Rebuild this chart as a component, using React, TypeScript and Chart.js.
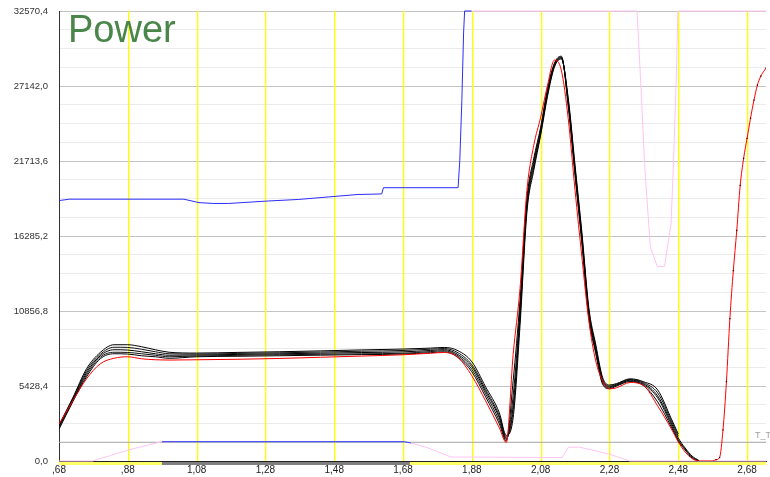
import React, { useEffect, useRef } from "react";
import { Chart, registerables } from "chart.js";

Chart.register(...registerables);

// ---------- axis ticks ----------
const xTickValues = [0.68, 0.88, 1.08, 1.28, 1.48, 1.68, 1.88, 2.08, 2.28, 2.48, 2.68];
const xTickLabels = [",68", ",88", "1,08", "1,28", "1,48", "1,68", "1,88", "2,08", "2,28", "2,48", "2,68"];
const yTickLabels = ["0,0", "5428,4", "10856,8", "16285,2", "21713,6", "27142,0", "32570,4"];
const yMax = 32570.4;
const yMinorStep = 1357.1;

// ---------- main power curves ----------
const curveX = [0.68, 0.72, 0.76, 0.80, 0.84, 0.88, 0.92, 0.96, 1.00, 1.08, 1.20, 1.32, 1.44, 1.56, 1.68, 1.76, 1.80, 1.84, 1.88, 1.92, 1.96, 1.98, 2.00, 2.02, 2.04, 2.06, 2.08, 2.10, 2.12, 2.14, 2.16, 2.18, 2.20, 2.22, 2.24, 2.26, 2.28, 2.30, 2.34, 2.38, 2.42, 2.46, 2.48, 2.50, 2.52, 2.54];
const redY = [2662, 4352, 5948, 7036, 7435, 7544, 7399, 7327, 7305, 7327, 7363, 7421, 7508, 7595, 7689, 7798, 7856, 7480, 6166, 4352, 2394, 1342, 7689, 12477, 19586, 22850, 24881, 27203, 29016, 28291, 24809, 19586, 14726, 10156, 7254, 5803, 5223, 5295, 5680, 5440, 3990, 2321, 1378, 653, 181, 0];
const redTailX = [2.56, 2.58, 2.59, 2.60, 2.61, 2.62, 2.63, 2.64, 2.65, 2.66, 2.67, 2.68, 2.69, 2.70, 2.71, 2.72, 2.735];
const redTailY = [0, 0, 100, 250, 2248, 5750, 10300, 13783, 16684, 19949, 21907, 23358, 24809, 26114, 27203, 27855, 28436];

const black1Y = [2600, 4570, 6674, 7856, 8415, 8415, 8270, 8052, 7871, 7812, 7860, 7907, 7970, 8040, 8103, 8170, 8219, 7979, 7181, 5368, 3482, 1850, 3119, 9793, 17990, 21037, 23575, 26404, 28508, 29100, 26300, 21400, 16500, 11100, 8450, 6050, 5500, 5600, 5950, 5730, 5150, 3047, 1960, null, null, null];
const black2Y = [2550, 4497, 6529, 7725, 8233, 8219, 8088, 7907, 7762, 7740, 7785, 7830, 7885, 7945, 8000, 8090, 8140, 7830, 6964, 5187, 3264, 1750, 3627, 10300, 18280, 21254, 23720, 26549, 28581, 29150, 26150, 21200, 16300, 10900, 8300, 5930, 5430, 5550, 5900, 5658, 4933, 2902, 1800, null, null, null];
const black3Y = [2500, 4425, 6384, 7617, 8052, 8030, 7907, 7762, 7653, 7670, 7715, 7760, 7805, 7850, 7900, 8000, 8060, 7700, 6819, 5041, 3119, 1650, 3990, 10663, 18498, 21472, 23866, 26694, 28653, 29200, 26000, 21037, 16104, 10736, 8124, 5803, 5368, 5513, 5854, 5586, 4715, 2750, 1668, 943, 363, 36];
const black4Y = [2400, 4352, 6238, 7508, 7871, 7856, 7762, 7653, 7544, 7600, 7645, 7690, 7725, 7760, 7800, 7920, 7980, 7600, 6637, 4860, 2902, 1550, 4715, 11099, 18715, 21689, 24011, 26840, 28726, 29250, 25850, 20850, 15900, 10550, 7950, 5680, 5300, 5470, 5800, 5513, 4570, 2600, 1523, 870, 290, 0];
const black5Y = [2300, 4280, 6093, 7399, 7762, 7740, 7617, 7544, 7435, 7544, 7580, 7617, 7660, 7700, 7740, 7840, 7900, 7500, 6456, 4643, 2684, 1450, 5803, 11606, 19005, 21907, 24156, 26985, 28798, 29300, 25700, 20650, 15700, 10350, 7800, 5560, 5230, 5420, 5750, 5440, 4280, 2450, 1451, 798, 218, 0];

// ---------- upper reference trace (blue, then pink) ----------
const blueTopX = [0.68, 0.711, 1.043, 1.087, 1.13, 1.173, 1.289, 1.376, 1.462, 1.549, 1.618, 1.623, 1.84, 1.845, 1.851, 1.856, 1.859, 1.879];
const blueTopY = [18850, 18950, 18950, 18700, 18640, 18640, 18820, 18930, 19110, 19290, 19330, 19780, 19780, 21762, 26114, 30974, 32570.4, 32570.4];
const pinkTopX = [1.879, 2.36, 2.363, 2.373, 2.382, 2.392, 2.399, 2.419, 2.44, 2.459, 2.466, 2.474, 2.479, 2.735];
const pinkTopY = [32570.4, 32570.4, 31200, 26353, 21523, 17896, 15473, 14073, 14073, 17170, 21523, 27565, 32570.4, 32570.4];

// ---------- lower reference trace (pink, blue, pink) ----------
const pinkLowAX = [0.68, 0.778, 0.83, 0.879, 0.93, 0.979];
const pinkLowAY = [0, 0, 400, 780, 1100, 1400];
const blueLowX = [0.979, 1.684, 1.703];
const blueLowY = [1400, 1400, 1300];
const pinkLowBX = [1.703, 1.751, 1.819, 2.142, 2.161, 2.193, 2.281, 2.339, 2.735];
const pinkLowBY = [1300, 965, 290, 250, 1000, 1000, 490, 0, 0];

// ---------- threshold ----------
const thresholdLabel = "T_T";
const thresholdX = [0.68, 2.735];
const thresholdY = [1357.1, 1357.1];

// ---------- state bar under the x axis ----------
const barFromX = [0.68, 0.979, 1.70];
const barToX = [0.979, 1.70, 2.735];
const barState = [1, 0, 1];

const chartTitle = "Power";

const pts = (xs: number[], ys: (number | null)[]) => xs.map((x, i) => ({ x, y: ys[i] }));

const FONT = '"Liberation Sans", Arial, sans-serif';

export default function App() {
  const ref = useRef<HTMLCanvasElement | null>(null);

  useEffect(() => {
    document.body.style.margin = "0";
    const canvas = ref.current;
    if (!canvas) return;

    const decor = {
      id: "decor",
      beforeDatasetsDraw(chart: any) {
        const { ctx, chartArea, scales } = chart;
        ctx.save();
        for (const v of xTickValues) {
          const px = Math.round(scales.x.getPixelForValue(v));
          if (px <= chartArea.left + 1) continue;
          const h = chartArea.bottom - chartArea.top;
          ctx.fillStyle = "rgba(255,255,0,0.35)";
          ctx.fillRect(px + 1, chartArea.top, 1, h);
          ctx.fillStyle = "#ffff00";
          ctx.fillRect(px, chartArea.top, 1, h);
        }
        ctx.restore();
      },
      afterDraw(chart: any) {
        const { ctx, chartArea, scales } = chart;
        const xs = scales.x;
        ctx.save();
        // state bar
        for (let i = 0; i < barFromX.length; i++) {
          const a = xs.getPixelForValue(barFromX[i]);
          const b = xs.getPixelForValue(barToX[i]);
          ctx.fillStyle = barState[i] ? "#ffff66" : "#808080";
          ctx.fillRect(a, chartArea.bottom + 1, b - a, 3);
        }
        // threshold label
        ctx.fillStyle = "#a0a0a0";
        ctx.font = "9px " + FONT;
        ctx.textBaseline = "alphabetic";
        ctx.textAlign = "left";
        ctx.fillText(thresholdLabel, 755, scales.y.getPixelForValue(thresholdY[0]) - 4);
        // title
        ctx.fillStyle = "#4a864a";
        ctx.font = "38px " + FONT;
        ctx.fillText(chartTitle, 68, 42);
        ctx.restore();
      },
    };

    const line = (label: string, data: any[], color: string, extra: any = {}) => ({
      label,
      data,
      borderColor: color,
      backgroundColor: color,
      borderWidth: 1,
      pointRadius: 0,
      fill: false,
      spanGaps: false,
      ...extra,
    });

    const smooth = { cubicInterpolationMode: "monotone" };

    const chart = new Chart(canvas, {
      type: "line",
      data: {
        datasets: [
          line("Red", pts([...curveX, ...redTailX], [...redY, ...redTailY]), "#ff0000", {
            ...smooth,
            pointRadius: (c: any) => (c.raw && c.raw.x >= 2.59 ? 0.9 : 0),
            pointStyle: "rect",
            pointBackgroundColor: "#300000",
            pointBorderWidth: 0,
          }),
          line("Run 1", pts(curveX, black1Y), "#000000", smooth),
          line("Run 2", pts(curveX, black2Y), "#111111", smooth),
          line("Run 3", pts(curveX, black3Y), "#000000", smooth),
          line("Run 4", pts(curveX, black4Y), "#111111", smooth),
          line("Run 5", pts(curveX, black5Y), "#000000", smooth),
          line("Upper blue", pts(blueTopX, blueTopY), "#2b2bff", { clip: 2 }),
          line("Upper pink", pts(pinkTopX, pinkTopY), "#ffc4f2", { clip: 2 }),
          line("Lower pink A", pts(pinkLowAX, pinkLowAY), "#ffc4f2", { clip: 2 }),
          line("Lower blue", pts(blueLowX, blueLowY), "#3a3aff", { clip: 2 }),
          line("Lower pink B", pts(pinkLowBX, pinkLowBY), "#ffc4f2", { clip: 2 }),
          line(thresholdLabel, pts(thresholdX, thresholdY), "#a8a8a8"),
        ],
      },
      options: {
        responsive: false,
        animation: false,
        devicePixelRatio: 1,
        layout: { padding: { top: 11, left: 0, right: 0, bottom: 0 } },
        plugins: { legend: { display: false }, tooltip: { enabled: false }, title: { display: false } },
        scales: {
          x: {
            type: "linear",
            min: 0.68,
            max: 2.735,
            afterBuildTicks: (s: any) => {
              s.ticks = xTickValues.map((v) => ({ value: v }));
            },
            afterFit: (s: any) => {
              s.height = 16;
            },
            ticks: {
              autoSkip: false,
              maxRotation: 0,
              padding: 3,
              color: "#222",
              font: { family: FONT, size: 10 },
              callback: (_v: any, i: number) => xTickLabels[i],
            },
            grid: { display: false, drawTicks: false },
            border: { display: true, color: "#222", width: 1 },
          },
          y: {
            type: "linear",
            min: 0,
            max: yMax,
            afterBuildTicks: (s: any) => {
              const t: any[] = [];
              for (let k = 0; k <= 24; k++) t.push({ value: k === 24 ? yMax : k * yMinorStep });
              s.ticks = t;
            },
            afterFit: (s: any) => {
              s.width = 59;
              s.paddingTop = 0;
              s.paddingBottom = 0;
            },
            ticks: {
              autoSkip: false,
              padding: 11,
              color: "#333",
              font: { family: FONT, size: 9.5 },
              callback: (_v: any, i: number) => (i % 4 === 0 ? yTickLabels[i / 4] : ""),
            },
            grid: {
              color: (c: any) => (c.index % 4 === 0 ? "#c4c4c4" : "#ebebeb"),
              lineWidth: 1,
              drawTicks: false,
            },
            border: { display: true, color: "#333", width: 1 },
          },
        },
      },
      plugins: [decor],
    } as any);

    return () => chart.destroy();
  }, []);

  return (
    <div style={{ position: "absolute", left: 0, top: 0, width: 770, height: 477 }}>
      <canvas ref={ref} width={770} height={477} style={{ display: "block", width: 770, height: 477 }} />
    </div>
  );
}
